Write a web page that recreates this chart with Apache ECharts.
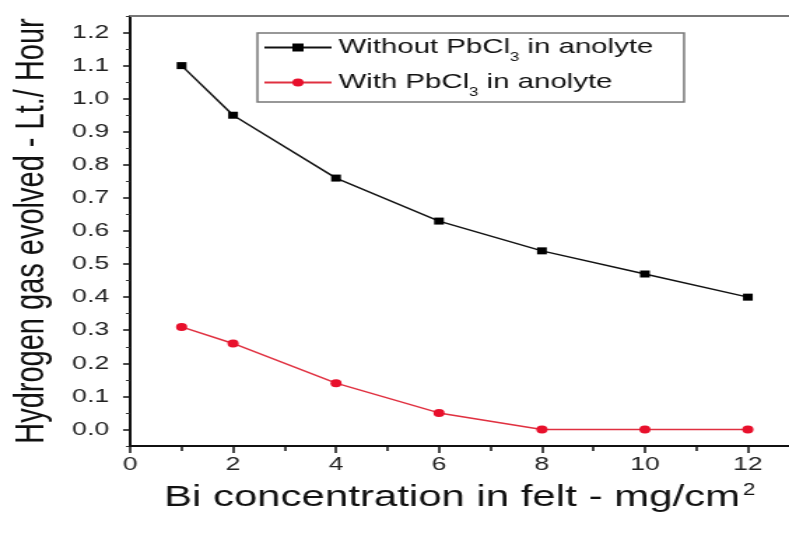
<!DOCTYPE html>
<html>
<head>
<meta charset="utf-8">
<script src="https://cdn.jsdelivr.net/npm/echarts@6/dist/echarts.min.js"></script>
<style>
  html, body { margin: 0; padding: 0; overflow: hidden; background: #fff; }
  /* the source picture is stretched sideways, so draw narrow and stretch */
  #chart { width: 564px; height: 538px; transform: scaleX(1.399); transform-origin: 0 0; }
</style>
</head>
<body>
<div id="chart"></div>
<script>
// Bi concentration (mg/cm2)
const xValues = [1, 2, 4, 6, 8, 10, 12]
// hydrogen evolved (Lt./Hour)
const withoutPb = [1.10, 0.95, 0.76, 0.63, 0.54, 0.47, 0.40]
const withPb = [0.31, 0.26, 0.14, 0.05, 0.00, 0.00, 0.00]

const xTicks = [0, 2, 4, 6, 8, 10, 12]
const xMinorTicks = [1, 3, 5, 7, 9, 11]
const yTicks = [0, 0.1, 0.2, 0.3, 0.4, 0.5, 0.6, 0.7, 0.8, 0.9, 1.0, 1.1, 1.2]
const yMinorTicks = [-0.05, 0.05, 0.15, 0.25, 0.35, 0.45, 0.55, 0.65, 0.75, 0.85, 0.95, 1.05, 1.15, 1.25]

const seriesNames = ['Without PbCl3 in anolyte', 'With PbCl3 in anolyte']

const font = 'Liberation Sans, Arial, sans-serif'

const chart = echarts.init(document.getElementById('chart'))

chart.setOption({
  animation: false,
  grid: { left: 90, right: 0, top: 16, bottom: 92 },
  legend: {
    orient: 'vertical',
    left: 184,
    top: 33,
    padding: [4, 22, 3, 4],
    itemGap: 8,
    itemWidth: 48,
    itemHeight: 10,
    borderColor: '#777',
    borderWidth: 1.5,
    backgroundColor: '#fff',
    data: seriesNames,
    formatter: (name) => name.replace('PbCl3', 'PbCl{sub|3}'),
    textStyle: {
      fontFamily: font,
      fontSize: 21,
      color: '#111',
      rich: {
        sub: { fontFamily: font, fontSize: 12, color: '#111', verticalAlign: 'bottom', padding: [0, 0, -6, 0] }
      }
    }
  },
  xAxis: [
    {
      type: 'value',
      min: 0,
      max: 12.8,
      position: 'bottom',
      splitLine: { show: false },
      axisLine: { onZero: false, lineStyle: { color: '#111', width: 2 } },
      axisTick: { customValues: xTicks, length: 7, lineStyle: { color: '#111', width: 1.5 } },
      axisLabel: {
        customValues: xTicks,
        margin: 9,
        fontFamily: font,
        fontSize: 19,
        color: '#222'
      },
      name: 'Bi concentration in felt - mg/cm{sup|2}',
      nameLocation: 'middle',
      nameGap: 37,
      nameTextStyle: {
        fontFamily: font,
        fontSize: 30,
        color: '#111',
        rich: {
          sup: { fontFamily: font, fontSize: 16, color: '#111', verticalAlign: 'top', padding: [0, 0, 14, 2] }
        }
      }
    },
    {
      // minor ticks on the bottom
      type: 'value',
      min: 0,
      max: 12.8,
      position: 'bottom',
      splitLine: { show: false },
      axisLine: { show: false, onZero: false },
      axisTick: { customValues: xMinorTicks, length: 5, lineStyle: { color: '#111', width: 1.5 } },
      axisLabel: { show: false }
    },
    {
      // top frame line
      type: 'value',
      min: 0,
      max: 12.8,
      position: 'top',
      splitLine: { show: false },
      axisLine: { onZero: false, lineStyle: { color: '#777', width: 2 } },
      axisTick: { show: false },
      axisLabel: { show: false }
    }
  ],
  yAxis: [
    {
      type: 'value',
      min: -0.05,
      max: 1.25,
      position: 'left',
      splitLine: { show: false },
      axisLine: { show: true, onZero: false, lineStyle: { color: '#111', width: 2 } },
      axisTick: { show: true, customValues: yTicks, length: 5, lineStyle: { color: '#111', width: 1.5 } },
      axisLabel: {
        customValues: yTicks,
        margin: 15,
        fontFamily: font,
        fontSize: 19,
        color: '#222',
        formatter: (v) => v.toFixed(1)
      },
      name: 'Hydrogen gas evolved - Lt./ Hour',
      nameLocation: 'middle',
      nameGap: 56,
      nameTextStyle: { fontFamily: font, fontSize: 29, color: '#111' }
    },
    {
      // minor ticks on the left
      type: 'value',
      min: -0.05,
      max: 1.25,
      position: 'left',
      splitLine: { show: false },
      axisLine: { show: false, onZero: false },
      axisTick: { show: true, customValues: yMinorTicks, length: 3, lineStyle: { color: '#333', width: 1 } },
      axisLabel: { show: false }
    }
  ],
  series: [
    {
      name: seriesNames[0],
      type: 'line',
      data: xValues.map((x, i) => [x, withoutPb[i]]),
      symbol: 'rect',
      symbolSize: 7,
      itemStyle: { color: '#000' },
      lineStyle: { color: '#111', width: 1.5 }
    },
    {
      name: seriesNames[1],
      type: 'line',
      data: xValues.map((x, i) => [x, withPb[i]]),
      symbol: 'circle',
      symbolSize: 8,
      itemStyle: { color: '#e8102c' },
      lineStyle: { color: '#e03040', width: 1.5 }
    }
  ]
})
</script>
</body>
</html>
